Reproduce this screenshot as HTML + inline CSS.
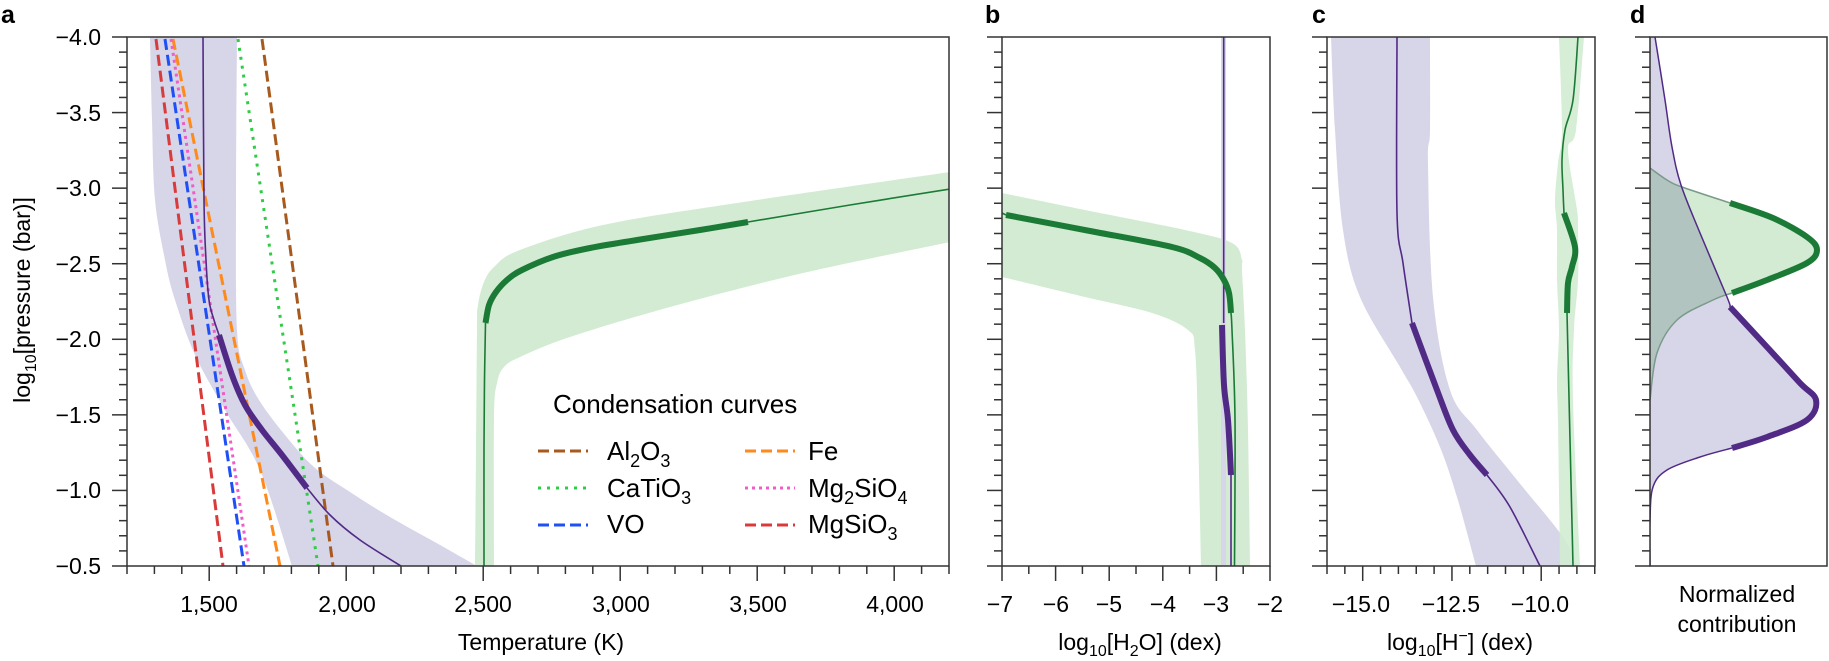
<!DOCTYPE html>
<html><head><meta charset="utf-8">
<style>
html,body{margin:0;padding:0;background:#fff;}
svg{display:block;font-family:"Liberation Sans",Arial,sans-serif;}
</style></head>
<body>
<svg id="s" width="1829" height="661" viewBox="0 0 1829 661" xmlns="http://www.w3.org/2000/svg">
<defs>
<clipPath id="ca"><rect x="127" y="37" width="822" height="529"/></clipPath>
<clipPath id="cb"><rect x="1002" y="37" width="268" height="529"/></clipPath>
<clipPath id="cc"><rect x="1327" y="37" width="268" height="529"/></clipPath>
<clipPath id="cd"><rect x="1650" y="37" width="177" height="529"/></clipPath>
</defs>
<rect width="1829" height="661" fill="#fff"/>

<!-- ===== Panel a ===== -->
<polygon class="sm" fill="#d7d5e8" points="150,37 152,120 155,200 165,260 175,300 195,355 225,410 260,470 292,566 292,566 477,566 477,566 440,545 390,517 350,492 314,467 285,435 259,400 245,370 237,330 236,200 237,37"/>
<polygon class="sm" fill="#d2ebd2" points="475,566 476,450 477,330 478,305 484,282 495,266 520,250 603,225 737,203 950,172 950,172 950,242 950,242 803,273 670,307 570,337 520,357 504,367 497,383 494,420 494,566"/>
<g fill="none" stroke-width="3">
<line x1="262" y1="39" x2="333" y2="566" stroke="#a85a1e" stroke-dasharray="11,5"/>
<line x1="238" y1="39" x2="318" y2="566" stroke="#2fcc45" stroke-dasharray="3,6"/>
<line x1="173" y1="39" x2="280" y2="566" stroke="#ff8a1c" stroke-dasharray="11,5"/>
<line x1="171" y1="39" x2="249" y2="566" stroke="#f05cc8" stroke-dasharray="3,4"/>
<line x1="165" y1="39" x2="244" y2="566" stroke="#1f4ff5" stroke-dasharray="11,5"/>
<line x1="156" y1="39" x2="223" y2="566" stroke="#d93b3b" stroke-dasharray="11,5"/>
</g>
<polyline class="sm" fill="none" stroke="#512a86" stroke-width="1.6" points="203,37 204,200 206,260 209,300 214,320 219,335"/>
<polyline class="sm" fill="none" stroke="#512a86" stroke-width="6" points="219,335 232,375 245,405 262,430 282,455 307,488"/>
<polyline class="sm" fill="none" stroke="#512a86" stroke-width="1.6" points="307,488 330,515 360,540 401,566"/>
<polyline class="sm" fill="none" stroke="#1b7a36" stroke-width="1.6" points="484,566 484,450 484.5,380 485.5,323"/>
<polyline class="sm" fill="none" stroke="#1b7a36" stroke-width="6" points="485.5,323 489,305 496,292 507,280 522,270 553,257 590,248 637,240 700,230 748,222"/>
<polyline class="sm" fill="none" stroke="#1b7a36" stroke-width="1.6" points="748,222 850,205 950,189"/>

<text x="553" y="413" font-size="26">Condensation curves</text>
<g stroke-width="3">
<line x1="538" y1="451" x2="588" y2="451" stroke="#a85a1e" stroke-dasharray="11,5"/>
<line x1="538" y1="488" x2="588" y2="488" stroke="#2fcc45" stroke-dasharray="3,6"/>
<line x1="538" y1="525" x2="588" y2="525" stroke="#1f4ff5" stroke-dasharray="11,5"/>
<line x1="745" y1="451" x2="795" y2="451" stroke="#ff8a1c" stroke-dasharray="11,5"/>
<line x1="745" y1="488" x2="795" y2="488" stroke="#f05cc8" stroke-dasharray="3,4"/>
<line x1="745" y1="525" x2="795" y2="525" stroke="#d93b3b" stroke-dasharray="11,5"/>
</g>
<g font-size="26">
<text x="607" y="460">Al<tspan font-size="18" dy="7">2</tspan><tspan dy="-7">O</tspan><tspan font-size="18" dy="7">3</tspan></text>
<text x="607" y="497">CaTiO<tspan font-size="18" dy="7">3</tspan></text>
<text x="607" y="533">VO</text>
<text x="808" y="460">Fe</text>
<text x="808" y="497">Mg<tspan font-size="18" dy="7">2</tspan><tspan dy="-7">SiO</tspan><tspan font-size="18" dy="7">4</tspan></text>
<text x="808" y="533">MgSiO<tspan font-size="18" dy="7">3</tspan></text>
</g>

<!-- ===== Panel b ===== -->
<polygon class="sm" fill="#d2ebd2" points="1002,193 1085,210 1185,230 1232,243 1242,260 1242,270 1245,330 1248,430 1250,566 1250,566 1201,566 1201,566 1198,430 1195,350 1188,330 1152,313 1085,297 1002,277"/>
<rect x="1221" y="37" width="5" height="529" fill="#d7d5e8"/>
<polyline fill="none" stroke="#512a86" stroke-width="1.6" points="1223.7,37 1223.7,323"/>
<polyline class="sm" fill="none" stroke="#512a86" stroke-width="6" points="1222,325 1224,385 1228,420 1231,475"/>
<polyline fill="none" stroke="#512a86" stroke-width="1.6" points="1231,475 1231,566"/>
<polyline fill="none" stroke="#1b7a36" stroke-width="1.6" points="1002,213 1006,215"/>
<polyline class="sm" fill="none" stroke="#1b7a36" stroke-width="6" points="1006,215 1090,231 1172,247 1200,258 1215,268 1224,280 1229,293 1231,313"/>
<polyline class="sm" fill="none" stroke="#1b7a36" stroke-width="1.6" points="1231,313 1232,330 1235,420 1234.5,566"/>

<!-- ===== Panel c ===== -->
<polygon class="sm" fill="#d7d5e8" points="1331,37 1335,130 1343,230 1360,297 1400,367 1417,397 1440,447 1457,497 1476,566 1476,566 1577,566 1577,566 1563,537 1517,480 1477,430 1450,390 1433,297 1428,163 1430,130 1430,37"/>
<polygon class="sm" fill="#d2ebd2" fill-opacity="0.9" points="1559,37 1562,130 1558,163 1555,200 1557,230 1557,280 1559,330 1557,380 1558,420 1560,566 1560,566 1580,566 1580,566 1573,400 1574,330 1578,280 1578,230 1577,210 1568,150 1576,130 1584,37"/>
<polyline class="sm" fill="none" stroke="#512a86" stroke-width="1.6" points="1397,37 1397,213 1403,263 1412,323"/>
<polyline class="sm" fill="none" stroke="#512a86" stroke-width="6" points="1412,323 1437,390 1453,430 1470,455 1487,475"/>
<polyline class="sm" fill="none" stroke="#512a86" stroke-width="1.6" points="1487,475 1510,507 1540,566"/>
<polyline class="sm" fill="none" stroke="#1b7a36" stroke-width="1.6" points="1578,37 1573,100 1565,130 1562,160 1563,190 1564,213"/>
<polyline class="sm" fill="none" stroke="#1b7a36" stroke-width="6" points="1564,213 1575,247 1572,267 1568,283 1567,313"/>
<polyline fill="none" stroke="#1b7a36" stroke-width="1.6" points="1567,313 1573,566"/>

<!-- ===== Panel d ===== -->
<path id="pfill" fill="#d7d5e8" d=""/>
<path id="gfill" fill="#d2ebd2" style="mix-blend-mode:multiply" d=""/>
<polyline id="g1" class="sm" fill="none" stroke="#7a9a8a" stroke-width="1.5" points="1650,168 1667,180 1682,187 1730,203"/>
<polyline id="g2" class="sm" fill="none" stroke="#1b7a36" stroke-width="6" points="1730,203 1773,218 1807,237 1817,250 1807,263 1767,280 1732,293"/>
<polyline id="g3" class="sm" fill="none" stroke="#7a9a8a" stroke-width="1.5" points="1732,293 1713,300 1677,320 1657,353 1650,400"/>
<polyline id="p1" class="sm" fill="none" stroke="#512a86" stroke-width="1.5" points="1655,37 1665,100 1672,147 1681,185 1700,233 1727,297 1730,307"/>
<polyline id="p2" class="sm" fill="none" stroke="#512a86" stroke-width="6" points="1730,307 1767,347 1800,383 1816,400 1807,420 1767,437 1732,448"/>
<polyline id="p3" class="sm" fill="none" stroke="#512a86" stroke-width="1.5" points="1732,448 1700,457 1667,470 1653,487 1650,520 1650,566"/>

<g fill="none" stroke="#333" stroke-width="1.5">
<rect x="127" y="37" width="822" height="529"/>
<rect x="1002" y="37" width="268" height="529"/>
<rect x="1327" y="37" width="268" height="529"/>
<rect x="1650" y="37" width="177" height="529"/>
</g>
<g id="ticks" stroke="#333" stroke-width="1.5"></g>

<g font-size="23" text-anchor="end">
<text x="101" y="45">−4.0</text>
<text x="101" y="121">−3.5</text>
<text x="101" y="196">−3.0</text>
<text x="101" y="272">−2.5</text>
<text x="101" y="347">−2.0</text>
<text x="101" y="423">−1.5</text>
<text x="101" y="498">−1.0</text>
<text x="101" y="574">−0.5</text>
</g>
<g font-size="23" text-anchor="middle">
<text x="209" y="612">1,500</text>
<text x="347" y="612">2,000</text>
<text x="483" y="612">2,500</text>
<text x="621" y="612">3,000</text>
<text x="758" y="612">3,500</text>
<text x="895" y="612">4,000</text>
<text x="1000" y="612">−7</text>
<text x="1056" y="612">−6</text>
<text x="1109" y="612">−5</text>
<text x="1163" y="612">−4</text>
<text x="1216" y="612">−3</text>
<text x="1270" y="612">−2</text>
<text x="1361" y="612">−15.0</text>
<text x="1451" y="612">−12.5</text>
<text x="1540" y="612">−10.0</text>
<text x="541" y="650">Temperature (K)</text>
<text x="1140" y="650">log<tspan font-size="16" dy="6">10</tspan><tspan dy="-6">[H</tspan><tspan font-size="16" dy="6">2</tspan><tspan dy="-6">O] (dex)</tspan></text>
<text x="1460" y="650">log<tspan font-size="16" dy="6">10</tspan><tspan dy="-6">[H</tspan><tspan font-size="16" dy="-9">−</tspan><tspan dy="9">] (dex)</tspan></text>
<text x="1737" y="602">Normalized</text>
<text x="1737" y="632">contribution</text>
<text transform="translate(30,300) rotate(-90)">log<tspan font-size="16" dy="6">10</tspan><tspan dy="-6">[pressure (bar)]</tspan></text>
</g>
<g font-size="25" font-weight="bold">
<text x="1" y="23">a</text>
<text x="985" y="23">b</text>
<text x="1312" y="23">c</text>
<text x="1630" y="23">d</text>
</g>
</svg>
<script>
(function(){
var ns='http://www.w3.org/2000/svg';
function pts(s){return s.trim().split(/\s+/).map(function(p){var a=p.split(',');return [+a[0],+a[1]];});}
function cr(P){
  var n=P.length,d='M'+P[0][0]+','+P[0][1];
  for(var i=0;i<n-1;i++){
    var p0=P[Math.max(i-1,0)],p1=P[i],p2=P[i+1],p3=P[Math.min(i+2,n-1)];
    var c1=[p1[0]+(p2[0]-p0[0])/6,p1[1]+(p2[1]-p0[1])/6],c2=[p2[0]-(p3[0]-p1[0])/6,p2[1]-(p3[1]-p1[1])/6];
    d+=' C'+c1[0].toFixed(1)+','+c1[1].toFixed(1)+' '+c2[0].toFixed(1)+','+c2[1].toFixed(1)+' '+p2[0]+','+p2[1];
  }
  return d;
}
function segs(P){return cr(P).replace(/^M[^ ]+/,'');}
function clipFor(x){return x<960?'url(#ca)':x<1300?'url(#cb)':x<1620?'url(#cc)':'url(#cd)';}
var pa=pts(document.getElementById('p1').getAttribute('points')),
    pb=pts(document.getElementById('p2').getAttribute('points')),
    pc=pts(document.getElementById('p3').getAttribute('points'));
var pf=document.getElementById('pfill');
pf.setAttribute('d','M1650,37 L1655,37'+segs(pa)+segs(pb)+segs(pc)+' Z');pf.setAttribute('clip-path','url(#cd)');
var ga=pts(document.getElementById('g1').getAttribute('points')),
    gb=pts(document.getElementById('g2').getAttribute('points')),
    gc=pts(document.getElementById('g3').getAttribute('points'));
var gf=document.getElementById('gfill');
gf.setAttribute('d','M1650,168'+segs(ga)+segs(gb)+segs(gc)+' Z');gf.setAttribute('clip-path','url(#cd)');
Array.prototype.slice.call(document.querySelectorAll('.sm')).forEach(function(el){
  var P=pts(el.getAttribute('points')),closed=el.tagName.toLowerCase()=='polygon';
  var p=document.createElementNS(ns,'path');
  for(var i=0;i<el.attributes.length;i++){var a=el.attributes[i];if(a.name!='points'&&a.name!='class')p.setAttribute(a.name,a.value);}
  p.setAttribute('d',cr(P)+(closed?' Z':''));
  p.setAttribute('stroke-linejoin','round');
  p.setAttribute('clip-path',clipFor(P[0][0]));
  el.parentNode.replaceChild(p,el);
});
var g=document.getElementById('ticks');
function L(x1,y1,x2,y2){var l=document.createElementNS(ns,'line');l.setAttribute('x1',x1);l.setAttribute('y1',y1);l.setAttribute('x2',x2);l.setAttribute('y2',y2);g.appendChild(l);}
var lefts=[127,1002,1327,1650];
for(var i=0;i<=35;i++){var y=37+i*529/35;var maj=(i%5==0);
 lefts.forEach(function(x){L(x,y,x-(maj?15:8),y);});}
for(var t=1200;t<=4200;t+=100){var x=127+(t-1200)*0.274;L(x,566,x,566+(t%500==0?15:8));}
for(var k=0;k<=10;k++){var x=1002+k*26.8;L(x,566,x,566+(k%2==0?15:8));}
for(var k=0;k<=15;k++){var v=-16+k*0.5;var x=1327+k*17.85;L(x,566,x,566+((v==-15||v==-12.5||v==-10)?15:8));}
})();
</script>
</body></html>
